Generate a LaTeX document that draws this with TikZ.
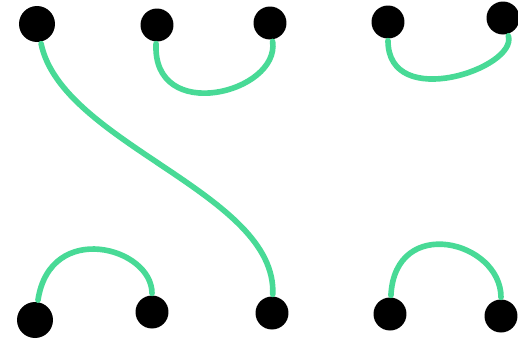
\documentclass[tikz,border=0pt]{standalone}
\usepackage{tikz}
\usetikzlibrary{positioning}
\definecolor{strandgreen}{RGB}{72,218,150}
\tikzset{
  dot/.style={circle,fill=black,inner sep=0pt,minimum size=0.66cm},
  bigdot/.style={dot,minimum size=0.72cm},
  strand/.style={line width=3.2pt,strandgreen,line cap=round,shorten <=1pt,shorten >=1pt},
}
\begin{document}
\begin{tikzpicture}[x=0.02cm,y=-0.02cm]
  \useasboundingbox (0,0) rectangle (518,342);
  % top row
  \node[bigdot] (t1) at (37,24) {};
  \node[dot] (t2) at (157,25) {};
  \node[dot] (t3) at (270,23) {};
  \node[dot] (t4) at (388,22) {};
  \node[dot] (t5) at (503,18) {};
  % bottom row
  \node[bigdot] (b1) at (35,320) {};
  \node[dot] (b2) at (152,312) {};
  \node[dot] (b3) at (272,313) {};
  \node[dot] (b4) at (390,314) {};
  \node[dot] (b5) at (501,316) {};
  % strands
  \draw[strand] (t1) .. controls +(25,120) and +(5,-120) .. (b3);
  \draw[strand] (t2) .. controls +(-5,100) and +(10,70) .. (t3);
  \draw[strand] (t4) .. controls +(0,90) and +(15,50) .. (t5);
  \draw[strand] (b1) .. controls +(15,-100) and +(0,-65) .. (b2);
  \draw[strand] (b4) .. controls +(5,-100) and +(0,-75) .. (b5);
\end{tikzpicture}
\end{document}
